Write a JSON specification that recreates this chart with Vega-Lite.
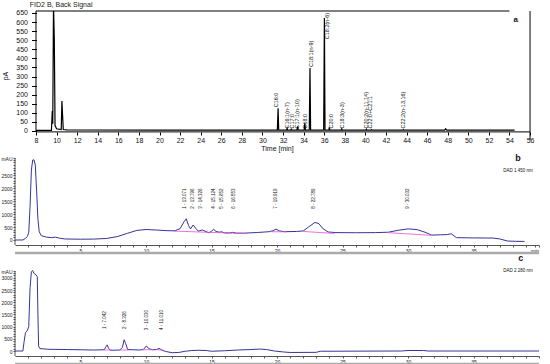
{
  "$schema": "https://vega.github.io/schema/vega-lite/v6.json",
  "padding": {"left": 0, "top": 0, "right": 0, "bottom": 0},
  "background": "white",
  "bounds": "flush",
  "spacing": 18,
  "config": {"font": "Liberation Sans", "view": {"stroke": null}, "axis": {"grid": false}},
  "datasets": {
    "gc": [
      {"t": 8.0, "v": 3}, {"t": 9.5, "v": 3}, {"t": 9.58, "v": 110}, {"t": 9.63, "v": 40}, {"t": 9.7, "v": 700},
      {"t": 9.78, "v": 500}, {"t": 9.85, "v": 30}, {"t": 10.0, "v": 12}, {"t": 10.45, "v": 8}, {"t": 10.52, "v": 165},
      {"t": 10.58, "v": 90}, {"t": 10.65, "v": 8}, {"t": 11.0, "v": 6}, {"t": 20.0, "v": 5}, {"t": 31.45, "v": 5},
      {"t": 31.52, "v": 125}, {"t": 31.58, "v": 5}, {"t": 32.35, "v": 5}, {"t": 32.4, "v": 15}, {"t": 32.45, "v": 5},
      {"t": 32.75, "v": 5}, {"t": 32.8, "v": 10}, {"t": 32.85, "v": 5}, {"t": 33.35, "v": 5}, {"t": 33.42, "v": 25},
      {"t": 33.48, "v": 5}, {"t": 34.05, "v": 5}, {"t": 34.12, "v": 45}, {"t": 34.18, "v": 5}, {"t": 34.55, "v": 5},
      {"t": 34.62, "v": 347}, {"t": 34.68, "v": 5}, {"t": 35.95, "v": 5}, {"t": 36.02, "v": 622}, {"t": 36.08, "v": 5},
      {"t": 36.45, "v": 5}, {"t": 36.5, "v": 20}, {"t": 36.55, "v": 5}, {"t": 37.65, "v": 5}, {"t": 37.7, "v": 12},
      {"t": 37.75, "v": 5}, {"t": 40.05, "v": 5}, {"t": 40.1, "v": 10}, {"t": 40.15, "v": 5}, {"t": 40.55, "v": 5},
      {"t": 40.6, "v": 8}, {"t": 40.65, "v": 5}, {"t": 43.65, "v": 5}, {"t": 43.7, "v": 8}, {"t": 43.75, "v": 5},
      {"t": 47.7, "v": 5}, {"t": 47.8, "v": 12}, {"t": 47.9, "v": 5}, {"t": 54.5, "v": 5}
    ],
    "gcLab": [
      {"t": 31.35, "ly": 125, "label": "C16:0"},
      {"t": 32.42, "ly": 8, "label": "C16:1(n-7)"},
      {"t": 32.85, "ly": 8, "label": "C17:0"},
      {"t": 33.4, "ly": 8, "label": "C17:1(n-10)"},
      {"t": 34.11, "ly": 8, "label": "C18:0"},
      {"t": 34.72, "ly": 347, "label": "C18:1(n-9)"},
      {"t": 36.28, "ly": 500, "label": "C18:2(n-6)"},
      {"t": 36.67, "ly": 8, "label": "C20:0"},
      {"t": 37.74, "ly": 8, "label": "C18:3(n-3)"},
      {"t": 40.04, "ly": 8, "label": "C20:2(n-11,14)"},
      {"t": 40.46, "ly": 8, "label": "C22:0+C21:1"},
      {"t": 43.67, "ly": 8, "label": "C22:2(n-13,16)"}
    ],
    "b": [
      {"t": 0, "v": 0}, {"t": 0.6, "v": 0}, {"t": 0.8, "v": 60}, {"t": 0.95, "v": 140}, {"t": 1.05, "v": 300},
      {"t": 1.15, "v": 1300}, {"t": 1.25, "v": 2700}, {"t": 1.35, "v": 3090}, {"t": 1.45, "v": 3100}, {"t": 1.55, "v": 2900},
      {"t": 1.65, "v": 1900}, {"t": 1.75, "v": 800}, {"t": 1.85, "v": 320}, {"t": 2.0, "v": 170}, {"t": 2.4, "v": 110},
      {"t": 2.8, "v": 90}, {"t": 3.1, "v": 110}, {"t": 3.4, "v": 70}, {"t": 3.8, "v": 40}, {"t": 5.0, "v": 30},
      {"t": 6.0, "v": 35}, {"t": 7.0, "v": 60}, {"t": 7.8, "v": 130}, {"t": 8.6, "v": 260}, {"t": 9.3, "v": 370},
      {"t": 10.0, "v": 405}, {"t": 10.8, "v": 385}, {"t": 11.6, "v": 360}, {"t": 12.2, "v": 355}, {"t": 12.6, "v": 440},
      {"t": 12.9, "v": 700}, {"t": 13.071, "v": 820}, {"t": 13.25, "v": 560}, {"t": 13.4, "v": 430}, {"t": 13.6, "v": 580},
      {"t": 13.8, "v": 450}, {"t": 14.0, "v": 340}, {"t": 14.3, "v": 390}, {"t": 14.5, "v": 340}, {"t": 14.8, "v": 280},
      {"t": 15.0, "v": 330}, {"t": 15.15, "v": 420}, {"t": 15.35, "v": 330}, {"t": 15.6, "v": 300}, {"t": 15.75, "v": 320},
      {"t": 16.0, "v": 275}, {"t": 16.4, "v": 270}, {"t": 16.6, "v": 295}, {"t": 16.9, "v": 265}, {"t": 17.5, "v": 265},
      {"t": 18.5, "v": 290}, {"t": 19.4, "v": 320}, {"t": 19.7, "v": 360}, {"t": 19.92, "v": 420}, {"t": 20.2, "v": 350},
      {"t": 20.6, "v": 320}, {"t": 21.5, "v": 330}, {"t": 22.0, "v": 350}, {"t": 22.4, "v": 500}, {"t": 22.9, "v": 680},
      {"t": 23.2, "v": 630}, {"t": 23.5, "v": 440}, {"t": 23.9, "v": 310}, {"t": 24.5, "v": 285}, {"t": 26.0, "v": 280},
      {"t": 27.5, "v": 285}, {"t": 28.5, "v": 300}, {"t": 29.3, "v": 380}, {"t": 30.03, "v": 430}, {"t": 30.7, "v": 400},
      {"t": 31.3, "v": 300}, {"t": 31.8, "v": 190}, {"t": 32.5, "v": 200}, {"t": 33.0, "v": 210}, {"t": 33.3, "v": 240},
      {"t": 33.7, "v": 90}, {"t": 35.0, "v": 80}, {"t": 36.5, "v": 75}, {"t": 37.0, "v": 40}, {"t": 37.6, "v": -40},
      {"t": 38.2, "v": -50}, {"t": 38.9, "v": -55}
    ],
    "bBase": [
      {"seg": 1, "t": 12.1, "v": 345}, {"seg": 1, "t": 17.7, "v": 245},
      {"seg": 2, "t": 19.5, "v": 320}, {"seg": 2, "t": 20.7, "v": 315},
      {"seg": 3, "t": 22.0, "v": 330}, {"seg": 3, "t": 24.4, "v": 255},
      {"seg": 4, "t": 28.4, "v": 285}, {"seg": 4, "t": 31.8, "v": 180}
    ],
    "bLab": [
      {"t": 13.0, "label": "1 - 13.071"}, {"t": 13.55, "label": "2 - 13.796"}, {"t": 14.2, "label": "3 - 14.326"},
      {"t": 15.2, "label": "4 - 15.124"}, {"t": 15.8, "label": "5 - 15.652"}, {"t": 16.7, "label": "6 - 16.553"},
      {"t": 19.96, "label": "7 - 19.919"}, {"t": 22.8, "label": "8 - 22.789"}, {"t": 30.0, "label": "9 - 30.032"}
    ],
    "c": [
      {"t": 0, "v": 0}, {"t": 0.6, "v": 0}, {"t": 0.7, "v": 400}, {"t": 0.8, "v": 750}, {"t": 0.95, "v": 850},
      {"t": 1.05, "v": 1000}, {"t": 1.15, "v": 2600}, {"t": 1.25, "v": 3250}, {"t": 1.35, "v": 3300}, {"t": 1.45, "v": 3180},
      {"t": 1.6, "v": 3120}, {"t": 1.7, "v": 3050}, {"t": 1.75, "v": 1500}, {"t": 1.8, "v": 200}, {"t": 1.9, "v": 100},
      {"t": 2.5, "v": 70}, {"t": 4.0, "v": 60}, {"t": 6.0, "v": 40}, {"t": 6.8, "v": 50}, {"t": 6.95, "v": 180},
      {"t": 7.04, "v": 250}, {"t": 7.15, "v": 100}, {"t": 7.3, "v": 30}, {"t": 8.0, "v": 40}, {"t": 8.2, "v": 150},
      {"t": 8.33, "v": 460}, {"t": 8.45, "v": 300}, {"t": 8.6, "v": 60}, {"t": 9.5, "v": 40}, {"t": 9.8, "v": 60},
      {"t": 10.03, "v": 210}, {"t": 10.2, "v": 100}, {"t": 10.5, "v": 50}, {"t": 10.8, "v": 60}, {"t": 11.01, "v": 110},
      {"t": 11.2, "v": 40}, {"t": 11.5, "v": -20}, {"t": 12.0, "v": -70}, {"t": 12.5, "v": -60}, {"t": 13.0, "v": -10},
      {"t": 13.5, "v": 20}, {"t": 14.0, "v": 30}, {"t": 14.6, "v": 20}, {"t": 15.0, "v": -10}, {"t": 16.0, "v": 10},
      {"t": 17.0, "v": 40}, {"t": 18.0, "v": 60}, {"t": 18.7, "v": 80}, {"t": 19.2, "v": 60}, {"t": 19.8, "v": 0},
      {"t": 20.5, "v": -40}, {"t": 21.0, "v": -60}, {"t": 23.0, "v": -55}, {"t": 23.3, "v": -10}, {"t": 29.5, "v": 0},
      {"t": 30.0, "v": 20}, {"t": 31.2, "v": 20}, {"t": 31.5, "v": 0}, {"t": 40.0, "v": 0}
    ],
    "cBase": [
      {"seg": 1, "t": 6.8, "v": 40}, {"seg": 1, "t": 7.4, "v": 40},
      {"seg": 2, "t": 8.0, "v": 40}, {"seg": 2, "t": 8.7, "v": 40},
      {"seg": 3, "t": 9.7, "v": 50}, {"seg": 3, "t": 10.5, "v": 50},
      {"seg": 4, "t": 10.8, "v": 50}, {"seg": 4, "t": 11.3, "v": 40}
    ],
    "cLab": [
      {"t": 6.9, "label": "1 - 7.042"}, {"t": 8.4, "label": "2 - 8.326"},
      {"t": 10.05, "label": "3 - 10.030"}, {"t": 11.2, "label": "4 - 11.010"}
    ]
  },
  "vconcat": [
    {
      "width": 524,
      "height": 129,
      "title": {"text": "FID2 B, Back Signal", "anchor": "start", "fontSize": 7, "fontWeight": "normal", "color": "#222", "dx": 28, "offset": 1},
      "encoding": {
        "x": {"type": "quantitative",
          "scale": {"domain": [5.96, 56.87], "nice": false, "zero": false},
          "axis": {"title": "Time [min]", "offset": -8, "values": [8,10,12,14,16,18,20,22,24,26,28,30,32,34,36,38,40,42,44,46,48,50,52,54,56],
            "domain": false, "tickSize": 3, "tickColor": "#000", "labelFontSize": 7, "labelPadding": 1, "labelColor": "#111",
            "labelFlush": false, "labelOverlap": false, "titleFontSize": 7, "titleFontWeight": "normal", "titlePadding": 1, "titleColor": "#111"}},
        "y": {"type": "quantitative",
          "scale": {"domain": [-49.6, 661], "nice": false, "zero": false},
          "axis": {"title": "pA", "offset": -21.5, "values": [0,50,100,150,200,250,300,350,400,450,500,550,600,650],
            "domain": false, "tickSize": 5, "tickColor": "#000", "labelFontSize": 7, "labelPadding": 4, "labelColor": "#111",
            "labelOverlap": false, "titleFontSize": 7, "titleFontWeight": "normal", "titlePadding": 7, "titleColor": "#111"}}
      },
      "layer": [
        {"data": {"name": "gc"}, "mark": {"type": "line", "color": "#000", "strokeWidth": 1.2, "clip": true},
          "encoding": {"x": {"field": "t"}, "y": {"field": "v"}}},
        {"data": {"name": "gcLab"},
          "mark": {"type": "text", "angle": 270, "align": "left", "baseline": "middle", "fontSize": 5.5, "dx": 1, "color": "#111"},
          "encoding": {"x": {"field": "t"}, "y": {"field": "ly"}, "text": {"field": "label"}}},
        {"data": {"values": [{}]}, "mark": {"type": "rule", "color": "#000", "strokeWidth": 1},
          "encoding": {"x": {"datum": 8}, "x2": {"datum": 54}, "y": {"datum": 661}}},
        {"data": {"values": [{}]}, "mark": {"type": "rule", "color": "#000", "strokeWidth": 1},
          "encoding": {"x": {"datum": 8}, "x2": {"datum": 56}, "y": {"datum": -5}}},
        {"data": {"values": [{}]}, "mark": {"type": "rule", "color": "#000", "strokeWidth": 1},
          "encoding": {"x": {"datum": 8}, "y": {"datum": -5}, "y2": {"datum": 661}}},
        {"data": {"values": [{}]}, "mark": {"type": "rule", "color": "#000", "strokeWidth": 1},
          "encoding": {"x": {"datum": 56}, "y": {"datum": 661}, "y2": {"datum": -49.6}}},
        {"data": {"values": [{}]}, "mark": {"type": "text", "fontSize": 8, "fontWeight": "bold", "color": "#111"},
          "encoding": {"x": {"datum": 54.6}, "y": {"datum": 611}, "text": {"value": "a"}}}
      ]
    },
    {
      "width": 524,
      "height": 95,
      "encoding": {
        "x": {"type": "quantitative",
          "scale": {"domain": [0, 40], "nice": false, "zero": false},
          "axis": {"title": null, "offset": -8, "values": [1,2,3,4,5,6,7,8,9,10,11,12,13,14,15,16,17,18,19,20,21,22,23,24,25,26,27,28,29,30,31,32,33,34,35,36,37,38,39,39.66,40],
            "labelExpr": "datum.value == 39.66 ? 'min' : ((datum.value % 5 == 0 && datum.value < 40) ? datum.label : '')",
            "domainColor": "#555", "tickSize": 2, "tickColor": "#555", "labelFontSize": 5, "labelPadding": 1, "labelColor": "#222",
            "labelFlush": false, "labelOverlap": false}},
        "y": {"type": "quantitative",
          "scale": {"domain": [-503, 3170], "nice": false, "zero": false},
          "axis": {"title": null, "domain": false, "values": [0,100,200,300,400,500,600,700,800,900,1000,1100,1200,1300,1400,1500,1600,1700,1800,1900,2000,2100,2200,2300,2400,2500,2600,2700,2800,2900,3000,3100,3170],
            "labelExpr": "datum.value == 3170 ? 'mAU' : ((datum.value % 500 == 0 && datum.value < 3000) ? format(datum.value, 'd') : '')",
            "tickSize": 2, "tickColor": "#555", "labelFontSize": 5, "labelPadding": 1, "labelColor": "#222",
            "labelOverlap": false}}
      },
      "layer": [
        {"data": {"name": "b"}, "mark": {"type": "line", "color": "#34349a", "strokeWidth": 1},
          "encoding": {"x": {"field": "t"}, "y": {"field": "v"}}},
        {"data": {"name": "bBase"}, "mark": {"type": "line", "color": "#e050d8", "strokeWidth": 0.8},
          "encoding": {"x": {"field": "t"}, "y": {"field": "v"}, "detail": {"field": "seg", "type": "nominal"}}},
        {"data": {"name": "bLab"},
          "mark": {"type": "text", "angle": 270, "align": "center", "baseline": "middle", "fontSize": 4.5, "color": "#111"},
          "encoding": {"x": {"field": "t"}, "y": {"datum": 1600}, "text": {"field": "label"}}},
        {"data": {"values": [{}]}, "mark": {"type": "rule", "color": "#555", "strokeWidth": 1},
          "encoding": {"x": {"datum": 0}, "y": {"datum": -193}, "y2": {"datum": 3170}}},
        {"data": {"values": [{}]}, "mark": {"type": "rule", "color": "#aaa", "strokeWidth": 2.5},
          "encoding": {"x": {"datum": 0}, "x2": {"datum": 40}, "y": {"datum": -503}}},
        {"data": {"values": [{}]}, "mark": {"type": "text", "fontSize": 9, "fontWeight": "bold", "color": "#111", "baseline": "middle"},
          "encoding": {"x": {"datum": 38.4}, "y": {"datum": 3170}, "text": {"value": "b"}}},
        {"data": {"values": [{}]}, "mark": {"type": "text", "fontSize": 4.5, "color": "#111"},
          "encoding": {"x": {"datum": 38.4}, "y": {"datum": 2661}, "text": {"value": "DAD 1 450 nm"}}}
      ]
    },
    {
      "width": 524,
      "height": 93,
      "encoding": {
        "x": {"type": "quantitative",
          "scale": {"domain": [0, 40], "nice": false, "zero": false},
          "axis": {"title": null, "offset": -8, "values": [1,2,3,4,5,6,7,8,9,10,11,12,13,14,15,16,17,18,19,20,21,22,23,24,25,26,27,28,29,30,31,32,33,34,35,36,37,38,39,40],
            "labelExpr": "(datum.value % 5 == 0 && datum.value < 40) ? datum.label : ''",
            "domainColor": "#555", "tickSize": 2, "tickColor": "#555", "labelFontSize": 5, "labelPadding": 1, "labelColor": "#222",
            "labelFlush": false, "labelOverlap": false}},
        "y": {"type": "quantitative",
          "scale": {"domain": [-533, 3280], "nice": false, "zero": false},
          "axis": {"title": null, "domain": false, "values": [0,100,200,300,400,500,600,700,800,900,1000,1100,1200,1300,1400,1500,1600,1700,1800,1900,2000,2100,2200,2300,2400,2500,2600,2700,2800,2900,3000,3100,3200,3280],
            "labelExpr": "datum.value == 3280 ? 'mAU' : (datum.value % 500 == 0 ? format(datum.value, 'd') : '')",
            "tickSize": 2, "tickColor": "#555", "labelFontSize": 5, "labelPadding": 1, "labelColor": "#222",
            "labelOverlap": false}}
      },
      "layer": [
        {"data": {"name": "c"}, "mark": {"type": "line", "color": "#34349a", "strokeWidth": 1},
          "encoding": {"x": {"field": "t"}, "y": {"field": "v"}}},
        {"data": {"name": "cBase"}, "mark": {"type": "line", "color": "#e050d8", "strokeWidth": 0.8},
          "encoding": {"x": {"field": "t"}, "y": {"field": "v"}, "detail": {"field": "seg", "type": "nominal"}}},
        {"data": {"name": "cLab"},
          "mark": {"type": "text", "angle": 270, "align": "center", "baseline": "middle", "fontSize": 4.5, "color": "#111"},
          "encoding": {"x": {"field": "t"}, "y": {"datum": 1270}, "text": {"field": "label"}}},
        {"data": {"values": [{}]}, "mark": {"type": "rule", "color": "#555", "strokeWidth": 1},
          "encoding": {"x": {"datum": 0}, "y": {"datum": -205}, "y2": {"datum": 3280}}},
        {"data": {"values": [{}]}, "mark": {"type": "rule", "color": "#aaa", "strokeWidth": 2.5},
          "encoding": {"x": {"datum": 0}, "x2": {"datum": 40}, "y": {"datum": -533}}},
        {"data": {"values": [{}]}, "mark": {"type": "text", "fontSize": 9, "fontWeight": "bold", "color": "#111", "baseline": "middle", "dy": -13},
          "encoding": {"x": {"datum": 38.6}, "y": {"datum": 3280}, "text": {"value": "c"}}},
        {"data": {"values": [{}]}, "mark": {"type": "text", "fontSize": 4.5, "color": "#111"},
          "encoding": {"x": {"datum": 38.4}, "y": {"datum": 3280}, "text": {"value": "DAD 2 280 nm"}}}
      ]
    }
  ]
}
